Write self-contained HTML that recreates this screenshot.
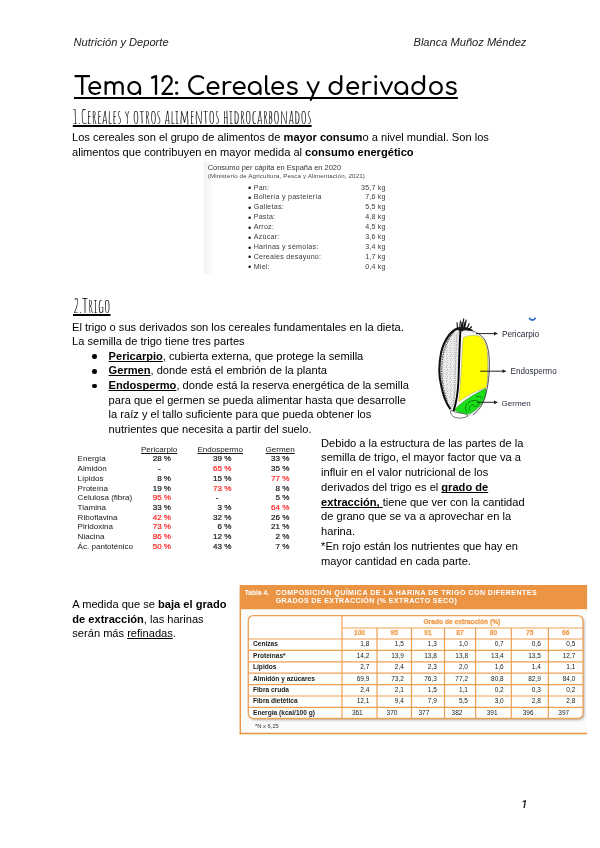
<!DOCTYPE html>
<html lang="es">
<head>
<meta charset="utf-8">
<title>Tema 12: Cereales y derivados</title>
<style>
html,body{margin:0;padding:0;background:#fff;}
body{width:600px;height:848px;position:relative;overflow:hidden;font-family:"Liberation Sans",Arial,sans-serif;color:#000;}
.l{position:absolute;white-space:nowrap;line-height:1;}
.hd{font-style:italic;color:#222;}
.title{position:absolute;white-space:nowrap;line-height:1;font-family:"Comfortaa","Liberation Sans",sans-serif;font-size:25px;font-weight:600;letter-spacing:0.02px;text-decoration:underline;text-decoration-thickness:2.2px;text-underline-offset:2.1px;text-decoration-skip-ink:none;}
.h{position:absolute;white-space:nowrap;line-height:1;font-family:"Amatic SC","Liberation Sans",sans-serif;font-size:18.6px;-webkit-text-stroke:0.1px #000;text-decoration:underline;text-decoration-thickness:2.1px;text-underline-offset:0.7px;text-decoration-skip-ink:none;}
b{font-weight:bold;}
u{text-decoration:underline;text-decoration-thickness:1px;text-underline-offset:0.6px;text-decoration-skip-ink:none;}
.bul{position:absolute;width:4.6px;height:4.6px;border-radius:50%;background:#000;}
.img1{position:absolute;left:204px;top:160.7px;width:188px;height:113.7px;background:linear-gradient(90deg,#f1f1f1 0,#fafafa 6px,#fff 10px);overflow:hidden;}
.t1 .l{color:#161616;}
.t1 .n{-webkit-text-stroke:0.2px currentColor;}
.t1 .r{color:#ff1f1f !important;}
.tb{position:absolute;}
#pg{position:absolute;left:0;top:0;width:600px;height:848px;will-change:transform;}
</style>
</head>
<body>
<div id="pg">
<div class="l hd" style="left:73.60px;top:37.10px;font-size:11.1px;">Nutrición y Deporte</div>
<div class="l hd" style="left:413.50px;top:37.10px;font-size:11.1px;">Blanca Muñoz Méndez</div>
<div class="title" style="left:74px;top:74.81px;">Tema 12: Cereales y derivados</div>
<div class="h" style="left:72.8px;top:107.83px;">1.Cereales y otros alimentos hidrocarbonados</div>
<div class="l" style="left:72.00px;top:131.60px;font-size:11.1px;">Los cereales son el grupo de alimentos de <b>mayor consum</b>o a nivel mundial. Son los</div>
<div class="l" style="left:72.00px;top:147.00px;font-size:11.1px;">alimentos que contribuyen en mayor medida al <b>consumo energético</b></div>
<div class="img1">
<div class="l" style="left:3.70px;top:3.29px;font-size:7.46px;color:#333;">Consumo per cápita en España en 2020</div>
<div class="l" style="left:3.70px;top:12.05px;font-size:6.2px;color:#444;letter-spacing:0.14px;">(Ministerio de Agricultura, Pesca y Alimentación, 2021)</div>
<div class="l" style="left:43.90px;top:22.46px;font-size:9.5px;color:#222;">•</div>
<div class="l" style="left:49.70px;top:23.89px;font-size:7.1px;color:#3a3a3a;letter-spacing:0.25px;">Pan:</div>
<div class="l" style="right:6.30px;top:23.89px;font-size:7.1px;letter-spacing:0.2px;color:#3a3a3a;">35,7 kg</div>
<div class="l" style="left:43.90px;top:32.36px;font-size:9.5px;color:#222;">•</div>
<div class="l" style="left:49.70px;top:33.79px;font-size:7.1px;color:#3a3a3a;letter-spacing:0.25px;">Bollería y pastelería</div>
<div class="l" style="right:6.30px;top:33.79px;font-size:7.1px;letter-spacing:0.2px;color:#3a3a3a;">7,6 kg</div>
<div class="l" style="left:43.90px;top:42.26px;font-size:9.5px;color:#222;">•</div>
<div class="l" style="left:49.70px;top:43.69px;font-size:7.1px;color:#3a3a3a;letter-spacing:0.25px;">Galletas:</div>
<div class="l" style="right:6.30px;top:43.69px;font-size:7.1px;letter-spacing:0.2px;color:#3a3a3a;">5,5 kg</div>
<div class="l" style="left:43.90px;top:52.16px;font-size:9.5px;color:#222;">•</div>
<div class="l" style="left:49.70px;top:53.59px;font-size:7.1px;color:#3a3a3a;letter-spacing:0.25px;">Pasta:</div>
<div class="l" style="right:6.30px;top:53.59px;font-size:7.1px;letter-spacing:0.2px;color:#3a3a3a;">4,8 kg</div>
<div class="l" style="left:43.90px;top:62.06px;font-size:9.5px;color:#222;">•</div>
<div class="l" style="left:49.70px;top:63.49px;font-size:7.1px;color:#3a3a3a;letter-spacing:0.25px;">Arroz:</div>
<div class="l" style="right:6.30px;top:63.49px;font-size:7.1px;letter-spacing:0.2px;color:#3a3a3a;">4,5 kg</div>
<div class="l" style="left:43.90px;top:71.96px;font-size:9.5px;color:#222;">•</div>
<div class="l" style="left:49.70px;top:73.39px;font-size:7.1px;color:#3a3a3a;letter-spacing:0.25px;">Azúcar:</div>
<div class="l" style="right:6.30px;top:73.39px;font-size:7.1px;letter-spacing:0.2px;color:#3a3a3a;">3,6 kg</div>
<div class="l" style="left:43.90px;top:81.86px;font-size:9.5px;color:#222;">•</div>
<div class="l" style="left:49.70px;top:83.29px;font-size:7.1px;color:#3a3a3a;letter-spacing:0.25px;">Harinas y sémolas:</div>
<div class="l" style="right:6.30px;top:83.29px;font-size:7.1px;letter-spacing:0.2px;color:#3a3a3a;">3,4 kg</div>
<div class="l" style="left:43.90px;top:91.76px;font-size:9.5px;color:#222;">•</div>
<div class="l" style="left:49.70px;top:93.19px;font-size:7.1px;color:#3a3a3a;letter-spacing:0.25px;">Cereales desayuno:</div>
<div class="l" style="right:6.30px;top:93.19px;font-size:7.1px;letter-spacing:0.2px;color:#3a3a3a;">1,7 kg</div>
<div class="l" style="left:43.90px;top:101.66px;font-size:9.5px;color:#222;">•</div>
<div class="l" style="left:49.70px;top:103.09px;font-size:7.1px;color:#3a3a3a;letter-spacing:0.25px;">Miel:</div>
<div class="l" style="right:6.30px;top:103.09px;font-size:7.1px;letter-spacing:0.2px;color:#3a3a3a;">0,4 kg</div>
</div>
<div class="h" style="left:73px;top:296.93px;">2.Trigo</div>
<div class="l" style="left:72.00px;top:321.60px;font-size:11.1px;">El trigo o sus derivados son los cereales fundamentales en la dieta.</div>
<div class="l" style="left:72.00px;top:336.23px;font-size:11.1px;">La semilla de trigo tiene tres partes</div>
<div class="l" style="left:108.60px;top:350.86px;font-size:11.1px;"><b><u>Pericarpio</u></b>, cubierta externa, que protege la semilla</div>
<div class="bul" style="left:92.10px;top:354.46px;"></div>
<div class="l" style="left:108.60px;top:365.49px;font-size:11.1px;"><b><u>Germen</u></b>, donde está el embrión de la planta</div>
<div class="bul" style="left:92.10px;top:369.09px;"></div>
<div class="l" style="left:108.60px;top:380.12px;font-size:11.1px;"><b><u>Endospermo</u></b>, donde está la reserva energética de la semilla</div>
<div class="bul" style="left:92.10px;top:383.72px;"></div>
<div class="l" style="left:108.60px;top:394.75px;font-size:11.1px;">para que el germen se pueda alimentar hasta que desarrolle</div>
<div class="l" style="left:108.60px;top:409.38px;font-size:11.1px;">la raíz y el tallo suficiente para que pueda obtener los</div>
<div class="l" style="left:108.60px;top:424.01px;font-size:11.1px;">nutrientes que necesita a partir del suelo.</div>
<div class="l" style="left:321.10px;top:437.70px;font-size:11.1px;">Debido a la estructura de las partes de la</div>
<div class="l" style="left:321.10px;top:452.43px;font-size:11.1px;">semilla de trigo, el mayor factor que va a</div>
<div class="l" style="left:321.10px;top:467.16px;font-size:11.1px;">influir en el valor nutricional de los</div>
<div class="l" style="left:321.10px;top:481.89px;font-size:11.1px;">derivados del trigo es el <b><u>grado de</u></b></div>
<div class="l" style="left:321.10px;top:496.62px;font-size:11.1px;"><b><u>extracción,</u></b><u> </u>tiene que ver con la cantidad</div>
<div class="l" style="left:321.10px;top:511.35px;font-size:11.1px;">de grano que se va a aprovechar en la</div>
<div class="l" style="left:321.10px;top:526.08px;font-size:11.1px;">harina.</div>
<div class="l" style="left:321.10px;top:540.81px;font-size:11.1px;">*En rojo están los nutrientes que hay en</div>
<div class="l" style="left:321.10px;top:555.54px;font-size:11.1px;">mayor cantidad en cada parte.</div>
<div class="l" style="left:72.30px;top:598.90px;font-size:11.1px;">A medida que se <b>baja el grado</b></div>
<div class="l" style="left:72.30px;top:613.65px;font-size:11.1px;"><b>de extracción</b>, las harinas</div>
<div class="l" style="left:72.30px;top:628.40px;font-size:11.1px;">serán más <u>refinadas</u>.</div>
<div class="t1">
<div class="l" style="left:141.00px;top:445.79px;font-size:8.05px;"><u>Pericarpio</u></div>
<div class="l" style="left:197.40px;top:445.79px;font-size:8.05px;"><u>Endospermo</u></div>
<div class="l" style="left:265.60px;top:445.79px;font-size:8.05px;"><u>Germen</u></div>
<div class="l" style="left:77.60px;top:455.39px;font-size:8.05px;">Energía</div>
<div class="l n" style="right:429.00px;top:455.39px;font-size:8.05px;">28 %</div>
<div class="l n" style="right:368.60px;top:455.39px;font-size:8.05px;">39 %</div>
<div class="l n" style="right:310.60px;top:455.39px;font-size:8.05px;">33 %</div>
<div class="l" style="left:77.60px;top:465.11px;font-size:8.05px;">Almidón</div>
<div class="l n" style="left:158.10px;top:465.11px;font-size:8.05px;">-</div>
<div class="l n r" style="right:368.60px;top:465.11px;font-size:8.05px;">65 %</div>
<div class="l n" style="right:310.60px;top:465.11px;font-size:8.05px;">35 %</div>
<div class="l" style="left:77.60px;top:474.83px;font-size:8.05px;">Lípidos</div>
<div class="l n" style="right:429.00px;top:474.83px;font-size:8.05px;">8 %</div>
<div class="l n" style="right:368.60px;top:474.83px;font-size:8.05px;">15 %</div>
<div class="l n r" style="right:310.60px;top:474.83px;font-size:8.05px;">77 %</div>
<div class="l" style="left:77.60px;top:484.55px;font-size:8.05px;">Proteína</div>
<div class="l n" style="right:429.00px;top:484.55px;font-size:8.05px;">19 %</div>
<div class="l n r" style="right:368.60px;top:484.55px;font-size:8.05px;">73 %</div>
<div class="l n" style="right:310.60px;top:484.55px;font-size:8.05px;">8 %</div>
<div class="l" style="left:77.60px;top:494.27px;font-size:8.05px;">Celulosa (fibra)</div>
<div class="l n r" style="right:429.00px;top:494.27px;font-size:8.05px;">95 %</div>
<div class="l n" style="left:215.70px;top:494.27px;font-size:8.05px;">-</div>
<div class="l n" style="right:310.60px;top:494.27px;font-size:8.05px;">5 %</div>
<div class="l" style="left:77.60px;top:503.99px;font-size:8.05px;">Tiamina</div>
<div class="l n" style="right:429.00px;top:503.99px;font-size:8.05px;">33 %</div>
<div class="l n" style="right:368.60px;top:503.99px;font-size:8.05px;">3 %</div>
<div class="l n r" style="right:310.60px;top:503.99px;font-size:8.05px;">64 %</div>
<div class="l" style="left:77.60px;top:513.71px;font-size:8.05px;">Riboflavina</div>
<div class="l n r" style="right:429.00px;top:513.71px;font-size:8.05px;">42 %</div>
<div class="l n" style="right:368.60px;top:513.71px;font-size:8.05px;">32 %</div>
<div class="l n" style="right:310.60px;top:513.71px;font-size:8.05px;">26 %</div>
<div class="l" style="left:77.60px;top:523.43px;font-size:8.05px;">Piridoxina</div>
<div class="l n r" style="right:429.00px;top:523.43px;font-size:8.05px;">73 %</div>
<div class="l n" style="right:368.60px;top:523.43px;font-size:8.05px;">6 %</div>
<div class="l n" style="right:310.60px;top:523.43px;font-size:8.05px;">21 %</div>
<div class="l" style="left:77.60px;top:533.15px;font-size:8.05px;">Niacina</div>
<div class="l n r" style="right:429.00px;top:533.15px;font-size:8.05px;">86 %</div>
<div class="l n" style="right:368.60px;top:533.15px;font-size:8.05px;">12 %</div>
<div class="l n" style="right:310.60px;top:533.15px;font-size:8.05px;">2 %</div>
<div class="l" style="left:77.60px;top:542.87px;font-size:8.05px;">Ác. pantoténico</div>
<div class="l n r" style="right:429.00px;top:542.87px;font-size:8.05px;">50 %</div>
<div class="l n" style="right:368.60px;top:542.87px;font-size:8.05px;">43 %</div>
<div class="l n" style="right:310.60px;top:542.87px;font-size:8.05px;">7 %</div>
</div>
<svg style="position:absolute;left:435px;top:315px;" width="65" height="105" viewBox="0 0 525 848">
<defs>
<pattern id="stip" width="30" height="30" patternUnits="userSpaceOnUse">
<rect width="30" height="30" fill="#f8f8f8"/>
<circle cx="4" cy="5" r="3.4" fill="#333"/><circle cx="19" cy="3" r="2.4" fill="#777"/>
<circle cx="12" cy="16" r="3.6" fill="#222"/><circle cx="25" cy="21" r="2.8" fill="#555"/>
<circle cx="4" cy="25" r="2.4" fill="#888"/><circle cx="22" cy="11" r="2" fill="#999"/>
</pattern>
</defs>
<!-- whole grain silhouette -->
<path d="M 185 108 C 130 125, 75 200, 50 300 C 30 400, 32 500, 50 570 C 65 650, 95 720, 125 760 C 118 785, 132 812, 165 826 C 205 838, 265 832, 300 812 C 345 790, 385 740, 405 660 C 430 570, 445 470, 440 380 C 437 290, 425 230, 395 190 C 370 160, 340 140, 300 128 C 265 115, 225 105, 185 108 Z" fill="url(#stip)" stroke="none"/>
<path d="M 300 128 C 265 115, 225 105, 185 108 C 130 125, 75 200, 50 300 C 30 400, 32 500, 50 570 C 65 650, 95 720, 125 760" fill="none" stroke="#111" stroke-width="17"/>
<!-- cut face (right of crease) -->
<path d="M 200 135 C 260 130, 330 140, 375 170 C 410 200, 428 260, 432 340 C 436 430, 430 540, 410 620 C 392 690, 360 740, 320 780 C 290 805, 250 812, 210 808 C 180 805, 160 790, 150 775 C 165 700, 178 600, 186 480 C 192 360, 195 240, 200 135 Z" fill="#f7f7f7"/>
<!-- endosperm -->
<path d="M 228 182 C 260 168, 300 160, 345 168 C 385 180, 410 215, 420 280 C 428 350, 428 450, 422 530 C 420 560, 415 580, 410 590 C 360 600, 300 630, 250 660 C 225 675, 205 690, 192 700 C 198 630, 208 540, 213 430 C 218 330, 221 250, 228 182 Z" fill="#ffff00" stroke="#8a8a60" stroke-width="3"/>
<!-- germ -->
<path d="M 158 765 C 190 730, 225 700, 270 672 C 320 640, 365 615, 410 592 C 415 615, 412 650, 400 675 C 385 705, 370 730, 345 752 C 320 778, 290 798, 262 802 C 225 805, 190 790, 158 765 Z" fill="#19e019" stroke="#2a4a2a" stroke-width="3"/>
<path d="M 262 788 C 238 760, 240 720, 280 700 C 320 682, 360 690, 355 715 C 350 738, 320 745, 305 730 M 282 772 C 270 748, 285 725, 310 722 M 330 660 C 350 655, 375 660, 385 672" fill="none" stroke="#0b7d0b" stroke-width="8"/>
<!-- right dark seed coat edge -->
<path d="M 300 128 C 345 142, 385 170, 405 205 C 430 255, 440 320, 440 400 C 440 500, 425 590, 405 660 C 385 730, 350 775, 310 805" fill="none" stroke="#2a2a2a" stroke-width="6"/>
<path d="M 425 300 C 432 380, 432 480, 420 560" fill="none" stroke="#666" stroke-width="5" stroke-dasharray="6 10"/>
<!-- crease -->
<path d="M 205 130 C 198 250, 194 400, 190 520 C 186 620, 175 700, 150 775" fill="none" stroke="#000" stroke-width="15"/>
<!-- pericarp inner edge texture -->
<path d="M 150 140 C 95 200, 62 300, 55 400 C 50 500, 62 600, 100 700" fill="none" stroke="#333" stroke-width="12" stroke-dasharray="6 8"/>
<path d="M 175 160 C 170 300, 165 450, 160 600 C 158 650, 150 700, 140 740" fill="none" stroke="#555" stroke-width="9" stroke-dasharray="4 12"/>
<!-- bottom tip -->
<path d="M 130 768 C 118 788, 130 815, 165 828 C 200 838, 245 832, 265 815 C 250 800, 225 790, 200 792 C 175 790, 150 780, 130 768 Z" fill="#fdfdfd" stroke="#222" stroke-width="5"/>
<!-- hairs / brush -->
<path d="M 182 112 L 178 62 M 200 104 L 205 48 M 222 100 L 232 30 M 240 102 L 252 40 M 258 110 L 275 70 M 272 118 L 295 95 M 212 102 L 218 60 M 232 103 L 243 58" stroke="#111" stroke-width="9" fill="none" stroke-linecap="round"/>
<path d="M 180 118 C 205 95, 255 92, 285 110 L 318 135 C 285 128, 240 120, 205 135 Z" fill="#1a1a1a"/>
<path d="M 230 130 C 260 128, 300 132, 330 145" fill="none" stroke="#eee" stroke-width="10"/>
</svg>
<svg style="position:absolute;left:0;top:0;" width="600" height="848" viewBox="0 0 600 848"><line x1="475.9" y1="333.6" x2="495" y2="333.6" stroke="#222" stroke-width="1"/><path d="M 498 333.6 L 494 331.70000000000005 L 494 335.5 Z" fill="#222"/><line x1="480.2" y1="371.2" x2="503.5" y2="371.2" stroke="#222" stroke-width="1"/><path d="M 506.5 371.2 L 502.5 369.3 L 502.5 373.09999999999997 Z" fill="#222"/><line x1="477.1" y1="402.3" x2="495" y2="402.3" stroke="#222" stroke-width="1"/><path d="M 498 402.3 L 494 400.40000000000003 L 494 404.2 Z" fill="#222"/><path d="M 529.6 318.3 C 530.6 320.8, 534.1 320.8, 535.1 318.3" fill="none" stroke="#2060c8" stroke-width="1.7" stroke-linecap="round"/></svg>
<div class="l" style="left:502.00px;top:330.82px;font-size:8.25px;color:#1f2535;">Pericarpio</div>
<div class="l" style="left:510.60px;top:367.50px;font-size:8.15px;color:#1f2535;">Endospermo</div>
<div class="l" style="left:501.50px;top:399.54px;font-size:8.1px;color:#1f2535;">Germen</div>
<svg style="position:absolute;left:230px;top:578px;" width="370" height="165" viewBox="230 578 370 165"><defs><filter id="sh" x="-5%" y="-5%" width="110%" height="120%"><feGaussianBlur stdDeviation="1"/></filter></defs><rect x="240.3" y="608" width="346.8" height="125.5" fill="#fbfbfb"/><rect x="239.6" y="585" width="347.5" height="24.2" fill="#ea9444"/><line x1="240.3" y1="608" x2="240.3" y2="734.2" stroke="#ea9444" stroke-width="1.4"/><line x1="239.6" y1="733.5" x2="587.1" y2="733.5" stroke="#ea9444" stroke-width="1.4"/><rect x="249.8" y="617.3" width="334.7" height="102.9" rx="5" fill="#9a9a9a" opacity="0.7" filter="url(#sh)"/><rect x="248.3" y="615.6" width="334.7" height="102.9" rx="5" fill="#fff" stroke="#ef9f55" stroke-width="1.3"/><line x1="342" y1="628" x2="583" y2="628" stroke="#ef9f55" stroke-width="1.2"/><line x1="248.3" y1="639" x2="583" y2="639" stroke="#ef9f55" stroke-width="1.2"/><line x1="248.3" y1="650.4" x2="583" y2="650.4" stroke="#ef9f55" stroke-width="1.2"/><line x1="248.3" y1="661.8" x2="583" y2="661.8" stroke="#ef9f55" stroke-width="1.2"/><line x1="248.3" y1="673.2" x2="583" y2="673.2" stroke="#ef9f55" stroke-width="1.2"/><line x1="248.3" y1="684.6" x2="583" y2="684.6" stroke="#ef9f55" stroke-width="1.2"/><line x1="248.3" y1="696" x2="583" y2="696" stroke="#ef9f55" stroke-width="1.2"/><line x1="248.3" y1="707.4" x2="583" y2="707.4" stroke="#ef9f55" stroke-width="1.2"/><line x1="342" y1="615.6" x2="342" y2="718.5" stroke="#ef9f55" stroke-width="1.2"/><line x1="377" y1="628" x2="377" y2="718.5" stroke="#ef9f55" stroke-width="1.2"/><line x1="411.5" y1="628" x2="411.5" y2="718.5" stroke="#ef9f55" stroke-width="1.2"/><line x1="444.5" y1="628" x2="444.5" y2="718.5" stroke="#ef9f55" stroke-width="1.2"/><line x1="475.6" y1="628" x2="475.6" y2="718.5" stroke="#ef9f55" stroke-width="1.2"/><line x1="511.3" y1="628" x2="511.3" y2="718.5" stroke="#ef9f55" stroke-width="1.2"/><line x1="548.4" y1="628" x2="548.4" y2="718.5" stroke="#ef9f55" stroke-width="1.2"/><text x="244.7" y="595" font-family="Liberation Sans, Arial, sans-serif" font-size="6.7" font-weight="bold" fill="#fff">Tabla 4.</text><text x="275.7" y="594.7" font-family="Liberation Sans, Arial, sans-serif" font-size="7.1" letter-spacing="0.44" font-weight="bold" fill="#fff">COMPOSICIÓN QUÍMICA DE LA HARINA DE TRIGO CON DIFERENTES</text><text x="275.7" y="603.3" font-family="Liberation Sans, Arial, sans-serif" font-size="7.1" letter-spacing="0.36" font-weight="bold" fill="#fff">GRADOS DE EXTRACCIÓN (% EXTRACTO SECO)</text><text x="423.4" y="624" font-family="Liberation Sans, Arial, sans-serif" font-size="6.7" font-weight="bold" fill="#ef9a48" stroke="#ef9a48" stroke-width="0.25">Grado de extracción (%)</text><text x="359.50" y="635" font-family="Liberation Sans, Arial, sans-serif" font-size="6.7" font-weight="bold" fill="#f0a050" stroke="#f0a050" stroke-width="0.25" text-anchor="middle">100</text><text x="394.25" y="635" font-family="Liberation Sans, Arial, sans-serif" font-size="6.7" font-weight="bold" fill="#f0a050" stroke="#f0a050" stroke-width="0.25" text-anchor="middle">95</text><text x="428.00" y="635" font-family="Liberation Sans, Arial, sans-serif" font-size="6.7" font-weight="bold" fill="#f0a050" stroke="#f0a050" stroke-width="0.25" text-anchor="middle">91</text><text x="460.05" y="635" font-family="Liberation Sans, Arial, sans-serif" font-size="6.7" font-weight="bold" fill="#f0a050" stroke="#f0a050" stroke-width="0.25" text-anchor="middle">87</text><text x="493.45" y="635" font-family="Liberation Sans, Arial, sans-serif" font-size="6.7" font-weight="bold" fill="#f0a050" stroke="#f0a050" stroke-width="0.25" text-anchor="middle">80</text><text x="529.85" y="635" font-family="Liberation Sans, Arial, sans-serif" font-size="6.7" font-weight="bold" fill="#f0a050" stroke="#f0a050" stroke-width="0.25" text-anchor="middle">75</text><text x="565.70" y="635" font-family="Liberation Sans, Arial, sans-serif" font-size="6.7" font-weight="bold" fill="#f0a050" stroke="#f0a050" stroke-width="0.25" text-anchor="middle">66</text><text x="253" y="646.40" font-family="Liberation Sans, Arial, sans-serif" font-size="6.6" font-weight="bold" fill="#1a1a1a">Cenizas</text><text x="369.40" y="646.40" font-family="Liberation Sans, Arial, sans-serif" font-size="6.5" fill="#1a1a1a" text-anchor="end">1,8</text><text x="403.90" y="646.40" font-family="Liberation Sans, Arial, sans-serif" font-size="6.5" fill="#1a1a1a" text-anchor="end">1,5</text><text x="436.90" y="646.40" font-family="Liberation Sans, Arial, sans-serif" font-size="6.5" fill="#1a1a1a" text-anchor="end">1,3</text><text x="468.00" y="646.40" font-family="Liberation Sans, Arial, sans-serif" font-size="6.5" fill="#1a1a1a" text-anchor="end">1,0</text><text x="503.70" y="646.40" font-family="Liberation Sans, Arial, sans-serif" font-size="6.5" fill="#1a1a1a" text-anchor="end">0,7</text><text x="540.80" y="646.40" font-family="Liberation Sans, Arial, sans-serif" font-size="6.5" fill="#1a1a1a" text-anchor="end">0,6</text><text x="575.40" y="646.40" font-family="Liberation Sans, Arial, sans-serif" font-size="6.5" fill="#1a1a1a" text-anchor="end">0,5</text><text x="253" y="657.80" font-family="Liberation Sans, Arial, sans-serif" font-size="6.6" font-weight="bold" fill="#1a1a1a">Proteínas*</text><text x="369.40" y="657.80" font-family="Liberation Sans, Arial, sans-serif" font-size="6.5" fill="#1a1a1a" text-anchor="end">14,2</text><text x="403.90" y="657.80" font-family="Liberation Sans, Arial, sans-serif" font-size="6.5" fill="#1a1a1a" text-anchor="end">13,9</text><text x="436.90" y="657.80" font-family="Liberation Sans, Arial, sans-serif" font-size="6.5" fill="#1a1a1a" text-anchor="end">13,8</text><text x="468.00" y="657.80" font-family="Liberation Sans, Arial, sans-serif" font-size="6.5" fill="#1a1a1a" text-anchor="end">13,8</text><text x="503.70" y="657.80" font-family="Liberation Sans, Arial, sans-serif" font-size="6.5" fill="#1a1a1a" text-anchor="end">13,4</text><text x="540.80" y="657.80" font-family="Liberation Sans, Arial, sans-serif" font-size="6.5" fill="#1a1a1a" text-anchor="end">13,5</text><text x="575.40" y="657.80" font-family="Liberation Sans, Arial, sans-serif" font-size="6.5" fill="#1a1a1a" text-anchor="end">12,7</text><text x="253" y="669.20" font-family="Liberation Sans, Arial, sans-serif" font-size="6.6" font-weight="bold" fill="#1a1a1a">Lípidos</text><text x="369.40" y="669.20" font-family="Liberation Sans, Arial, sans-serif" font-size="6.5" fill="#1a1a1a" text-anchor="end">2,7</text><text x="403.90" y="669.20" font-family="Liberation Sans, Arial, sans-serif" font-size="6.5" fill="#1a1a1a" text-anchor="end">2,4</text><text x="436.90" y="669.20" font-family="Liberation Sans, Arial, sans-serif" font-size="6.5" fill="#1a1a1a" text-anchor="end">2,3</text><text x="468.00" y="669.20" font-family="Liberation Sans, Arial, sans-serif" font-size="6.5" fill="#1a1a1a" text-anchor="end">2,0</text><text x="503.70" y="669.20" font-family="Liberation Sans, Arial, sans-serif" font-size="6.5" fill="#1a1a1a" text-anchor="end">1,6</text><text x="540.80" y="669.20" font-family="Liberation Sans, Arial, sans-serif" font-size="6.5" fill="#1a1a1a" text-anchor="end">1,4</text><text x="575.40" y="669.20" font-family="Liberation Sans, Arial, sans-serif" font-size="6.5" fill="#1a1a1a" text-anchor="end">1,1</text><text x="253" y="680.60" font-family="Liberation Sans, Arial, sans-serif" font-size="6.6" font-weight="bold" fill="#1a1a1a">Almidón y azúcares</text><text x="369.40" y="680.60" font-family="Liberation Sans, Arial, sans-serif" font-size="6.5" fill="#1a1a1a" text-anchor="end">69,9</text><text x="403.90" y="680.60" font-family="Liberation Sans, Arial, sans-serif" font-size="6.5" fill="#1a1a1a" text-anchor="end">73,2</text><text x="436.90" y="680.60" font-family="Liberation Sans, Arial, sans-serif" font-size="6.5" fill="#1a1a1a" text-anchor="end">76,3</text><text x="468.00" y="680.60" font-family="Liberation Sans, Arial, sans-serif" font-size="6.5" fill="#1a1a1a" text-anchor="end">77,2</text><text x="503.70" y="680.60" font-family="Liberation Sans, Arial, sans-serif" font-size="6.5" fill="#1a1a1a" text-anchor="end">80,8</text><text x="540.80" y="680.60" font-family="Liberation Sans, Arial, sans-serif" font-size="6.5" fill="#1a1a1a" text-anchor="end">82,9</text><text x="575.40" y="680.60" font-family="Liberation Sans, Arial, sans-serif" font-size="6.5" fill="#1a1a1a" text-anchor="end">84,0</text><text x="253" y="692.00" font-family="Liberation Sans, Arial, sans-serif" font-size="6.6" font-weight="bold" fill="#1a1a1a">Fibra cruda</text><text x="369.40" y="692.00" font-family="Liberation Sans, Arial, sans-serif" font-size="6.5" fill="#1a1a1a" text-anchor="end">2,4</text><text x="403.90" y="692.00" font-family="Liberation Sans, Arial, sans-serif" font-size="6.5" fill="#1a1a1a" text-anchor="end">2,1</text><text x="436.90" y="692.00" font-family="Liberation Sans, Arial, sans-serif" font-size="6.5" fill="#1a1a1a" text-anchor="end">1,5</text><text x="468.00" y="692.00" font-family="Liberation Sans, Arial, sans-serif" font-size="6.5" fill="#1a1a1a" text-anchor="end">1,1</text><text x="503.70" y="692.00" font-family="Liberation Sans, Arial, sans-serif" font-size="6.5" fill="#1a1a1a" text-anchor="end">0,2</text><text x="540.80" y="692.00" font-family="Liberation Sans, Arial, sans-serif" font-size="6.5" fill="#1a1a1a" text-anchor="end">0,3</text><text x="575.40" y="692.00" font-family="Liberation Sans, Arial, sans-serif" font-size="6.5" fill="#1a1a1a" text-anchor="end">0,2</text><text x="253" y="703.40" font-family="Liberation Sans, Arial, sans-serif" font-size="6.6" font-weight="bold" fill="#1a1a1a">Fibra dietética</text><text x="369.40" y="703.40" font-family="Liberation Sans, Arial, sans-serif" font-size="6.5" fill="#1a1a1a" text-anchor="end">12,1</text><text x="403.90" y="703.40" font-family="Liberation Sans, Arial, sans-serif" font-size="6.5" fill="#1a1a1a" text-anchor="end">9,4</text><text x="436.90" y="703.40" font-family="Liberation Sans, Arial, sans-serif" font-size="6.5" fill="#1a1a1a" text-anchor="end">7,9</text><text x="468.00" y="703.40" font-family="Liberation Sans, Arial, sans-serif" font-size="6.5" fill="#1a1a1a" text-anchor="end">5,5</text><text x="503.70" y="703.40" font-family="Liberation Sans, Arial, sans-serif" font-size="6.5" fill="#1a1a1a" text-anchor="end">3,0</text><text x="540.80" y="703.40" font-family="Liberation Sans, Arial, sans-serif" font-size="6.5" fill="#1a1a1a" text-anchor="end">2,8</text><text x="575.40" y="703.40" font-family="Liberation Sans, Arial, sans-serif" font-size="6.5" fill="#1a1a1a" text-anchor="end">2,8</text><text x="253" y="714.80" font-family="Liberation Sans, Arial, sans-serif" font-size="6.6" font-weight="bold" fill="#1a1a1a">Energía (kcal/100 g)</text><text x="351.90" y="714.80" font-family="Liberation Sans, Arial, sans-serif" font-size="6.5" fill="#1a1a1a">361</text><text x="386.60" y="714.80" font-family="Liberation Sans, Arial, sans-serif" font-size="6.5" fill="#1a1a1a">370</text><text x="418.50" y="714.80" font-family="Liberation Sans, Arial, sans-serif" font-size="6.5" fill="#1a1a1a">377</text><text x="451.60" y="714.80" font-family="Liberation Sans, Arial, sans-serif" font-size="6.5" fill="#1a1a1a">382</text><text x="486.70" y="714.80" font-family="Liberation Sans, Arial, sans-serif" font-size="6.5" fill="#1a1a1a">391</text><text x="522.70" y="714.80" font-family="Liberation Sans, Arial, sans-serif" font-size="6.5" fill="#1a1a1a">396</text><text x="558.30" y="714.80" font-family="Liberation Sans, Arial, sans-serif" font-size="6.5" fill="#1a1a1a">397</text><text x="255" y="727.6" font-family="Liberation Sans, Arial, sans-serif" font-size="5.8" fill="#333">*N x 6,25</text></svg>
<div class="l" style="left:521.30px;top:798.60px;font-size:11.1px;font-family:Roboto,'Liberation Sans',sans-serif;font-style:italic;font-weight:600;color:#222;">1</div>
</div>
</body>
</html>
